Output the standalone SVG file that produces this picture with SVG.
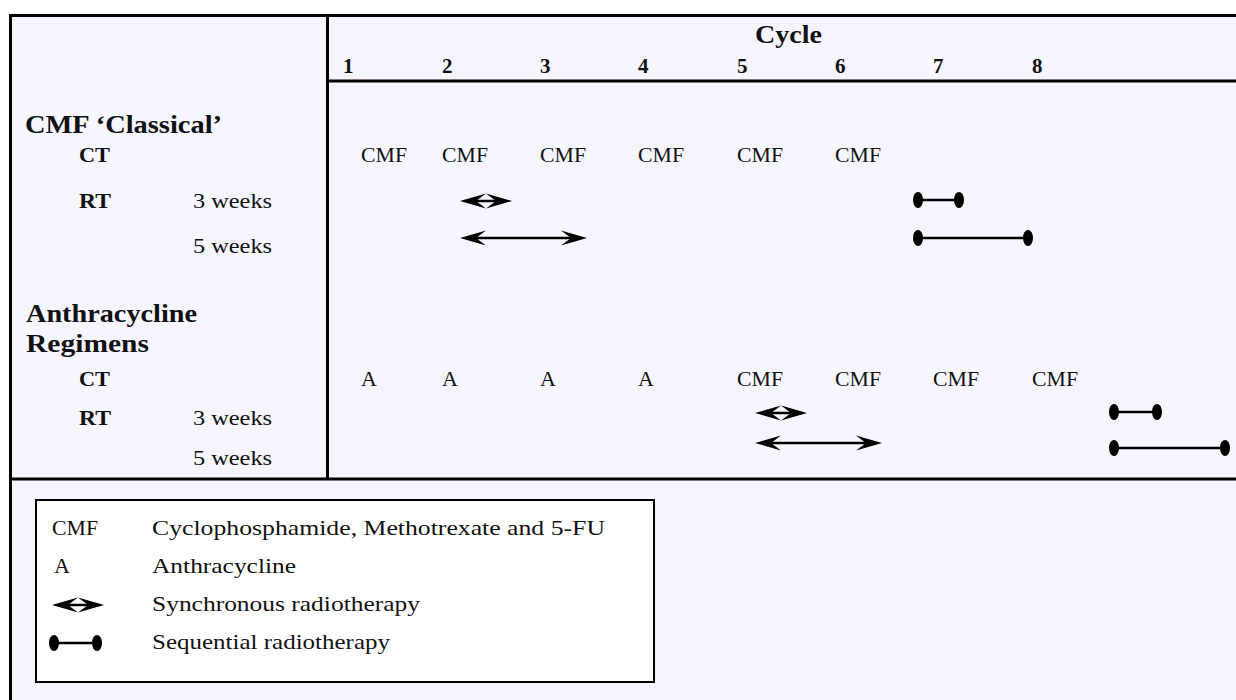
<svg xmlns="http://www.w3.org/2000/svg" xmlns:xlink="http://www.w3.org/1999/xlink" width="1236" height="700" viewBox="0 0 1236 700">
  <style>
    text { font-family: "Liberation Serif", "Times New Roman", serif; fill: #111; }
    .h { font-size: 25px; font-weight: bold; }
    .num { font-size: 21px; font-weight: bold; }
    .lab { font-size: 22px; font-weight: bold; }
    .r { font-size: 22px; }
    .lg { font-size: 22px; }
    .rule { stroke: #000; stroke-width: 3; fill: none; }
    .shaft { stroke: #000; stroke-width: 2.5; fill: none; }
  </style>
  <defs>
    <!-- notched arrowheads, tip at the origin -->
    <path id="headL" d="M0,0 L26,-7.5 L16,0 L26,7.5 Z" fill="#000"/>
    <path id="headR" d="M0,0 L-26,-7.5 L-16,0 L-26,7.5 Z" fill="#000"/>
    <!-- end cap of a sequential bar -->
    <ellipse id="dot" cx="0" cy="0" rx="5" ry="8" fill="#000"/>
  </defs>

  <!-- page and table frame -->
  <rect x="0" y="0" width="1236" height="700" fill="#fff"/>
  <rect x="10" y="15" width="1226" height="685" fill="#f6f6ff"/>
  <g id="frame" class="rule">
    <line x1="9" y1="15.5" x2="1236" y2="15.5"/>
    <line x1="10.5" y1="14" x2="10.5" y2="700"/>
    <line x1="327.5" y1="15" x2="327.5" y2="479"/>
    <line x1="327" y1="81" x2="1236" y2="81"/>
    <line x1="9" y1="479" x2="1236" y2="479"/>
  </g>

  <!-- header -->
  <g id="header">
    <text class="h" x="755" y="43" textLength="67" lengthAdjust="spacingAndGlyphs">Cycle</text>
    <text class="num" x="343" y="73">1</text>
    <text class="num" x="442" y="73">2</text>
    <text class="num" x="540" y="73">3</text>
    <text class="num" x="638" y="73">4</text>
    <text class="num" x="737" y="73">5</text>
    <text class="num" x="835" y="73">6</text>
    <text class="num" x="933" y="73">7</text>
    <text class="num" x="1032" y="73">8</text>
  </g>

  <!-- CMF classical block -->
  <g id="cmf-labels">
    <text class="h" x="25" y="133" textLength="197" lengthAdjust="spacingAndGlyphs">CMF ‘Classical’</text>
    <text class="lab" x="79" y="162" textLength="31" lengthAdjust="spacingAndGlyphs">CT</text>
    <text class="lab" x="79" y="208" textLength="32" lengthAdjust="spacingAndGlyphs">RT</text>
    <text class="r" x="193" y="208" textLength="79" lengthAdjust="spacingAndGlyphs">3 weeks</text>
    <text class="r" x="193" y="253" textLength="79" lengthAdjust="spacingAndGlyphs">5 weeks</text>
  </g>
  <g id="cmf-ct">
    <text class="r" x="361" y="162" textLength="46" lengthAdjust="spacingAndGlyphs">CMF</text>
    <text class="r" x="442" y="162" textLength="46" lengthAdjust="spacingAndGlyphs">CMF</text>
    <text class="r" x="540" y="162" textLength="46" lengthAdjust="spacingAndGlyphs">CMF</text>
    <text class="r" x="638" y="162" textLength="46" lengthAdjust="spacingAndGlyphs">CMF</text>
    <text class="r" x="737" y="162" textLength="46" lengthAdjust="spacingAndGlyphs">CMF</text>
    <text class="r" x="835" y="162" textLength="46" lengthAdjust="spacingAndGlyphs">CMF</text>
  </g>

  <!-- anthracycline block -->
  <g id="anthra-labels">
    <text class="h" x="26" y="322" textLength="171" lengthAdjust="spacingAndGlyphs">Anthracycline</text>
    <text class="h" x="26" y="352" textLength="123" lengthAdjust="spacingAndGlyphs">Regimens</text>
    <text class="lab" x="79" y="386" textLength="31" lengthAdjust="spacingAndGlyphs">CT</text>
    <text class="lab" x="79" y="425" textLength="32" lengthAdjust="spacingAndGlyphs">RT</text>
    <text class="r" x="193" y="425" textLength="79" lengthAdjust="spacingAndGlyphs">3 weeks</text>
    <text class="r" x="193" y="465" textLength="79" lengthAdjust="spacingAndGlyphs">5 weeks</text>
  </g>
  <g id="anthra-ct">
    <text class="r" x="361" y="386">A</text>
    <text class="r" x="442" y="386">A</text>
    <text class="r" x="540" y="386">A</text>
    <text class="r" x="638" y="386">A</text>
    <text class="r" x="737" y="386" textLength="46" lengthAdjust="spacingAndGlyphs">CMF</text>
    <text class="r" x="835" y="386" textLength="46" lengthAdjust="spacingAndGlyphs">CMF</text>
    <text class="r" x="933" y="386" textLength="46" lengthAdjust="spacingAndGlyphs">CMF</text>
    <text class="r" x="1032" y="386" textLength="46" lengthAdjust="spacingAndGlyphs">CMF</text>
  </g>

  <!-- radiotherapy bars -->
  <g id="connectors">
    <!-- synchronous, CMF block -->
    <line class="shaft" x1="466" y1="201" x2="506" y2="201"/>
    <use xlink:href="#headL" x="460" y="201"/>
    <use xlink:href="#headR" x="512" y="201"/>
    <line class="shaft" x1="466" y1="238" x2="581" y2="238"/>
    <use xlink:href="#headL" x="460" y="238"/>
    <use xlink:href="#headR" x="587" y="238"/>
    <!-- sequential, CMF block -->
    <line class="shaft" x1="918" y1="200" x2="959" y2="200"/>
    <use xlink:href="#dot" x="918" y="200"/>
    <use xlink:href="#dot" x="959" y="200"/>
    <line class="shaft" x1="918" y1="238" x2="1028" y2="238"/>
    <use xlink:href="#dot" x="918" y="238"/>
    <use xlink:href="#dot" x="1028" y="238"/>
    <!-- synchronous, anthracycline block -->
    <line class="shaft" x1="761" y1="413" x2="801" y2="413"/>
    <use xlink:href="#headL" x="755" y="413"/>
    <use xlink:href="#headR" x="807" y="413"/>
    <line class="shaft" x1="761" y1="443" x2="876" y2="443"/>
    <use xlink:href="#headL" x="755" y="443"/>
    <use xlink:href="#headR" x="882" y="443"/>
    <!-- sequential, anthracycline block -->
    <line class="shaft" x1="1114" y1="412" x2="1157" y2="412"/>
    <use xlink:href="#dot" x="1114" y="412"/>
    <use xlink:href="#dot" x="1157" y="412"/>
    <line class="shaft" x1="1114" y1="448" x2="1225" y2="448"/>
    <use xlink:href="#dot" x="1114" y="448"/>
    <use xlink:href="#dot" x="1225" y="448"/>
  </g>

  <!-- key -->
  <g id="legend">
    <rect x="36" y="500" width="618" height="182" fill="#fff" stroke="#000" stroke-width="2"/>
    <text class="lg" x="52" y="535" textLength="46" lengthAdjust="spacingAndGlyphs">CMF</text>
    <text class="lg" x="152" y="535" textLength="453" lengthAdjust="spacingAndGlyphs">Cyclophosphamide, Methotrexate and 5-FU</text>
    <text class="lg" x="54" y="573">A</text>
    <text class="lg" x="152" y="573" textLength="144" lengthAdjust="spacingAndGlyphs">Anthracycline</text>
    <line class="shaft" x1="58" y1="605" x2="98" y2="605"/>
    <use xlink:href="#headL" x="52" y="605"/>
    <use xlink:href="#headR" x="104" y="605"/>
    <text class="lg" x="152" y="611" textLength="268" lengthAdjust="spacingAndGlyphs">Synchronous radiotherapy</text>
    <line class="shaft" x1="54" y1="643" x2="97" y2="643"/>
    <use xlink:href="#dot" x="54" y="643"/>
    <use xlink:href="#dot" x="97" y="643"/>
    <text class="lg" x="152" y="649" textLength="238" lengthAdjust="spacingAndGlyphs">Sequential radiotherapy</text>
  </g>
</svg>
